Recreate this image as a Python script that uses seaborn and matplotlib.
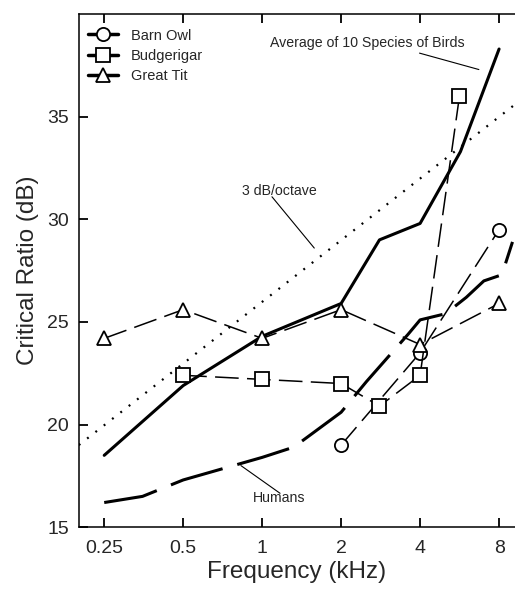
import matplotlib
matplotlib.use("Agg")
import matplotlib.pyplot as plt
from matplotlib.lines import Line2D
import seaborn as sns

# axis ticks
freq_ticks = [0.25, 0.5, 1, 2, 4, 8]
freq_labels = ["0.25", "0.5", "1", "2", "4", "8"]
db_ticks = [15, 20, 25, 30, 35]

# average of 10 bird species (solid)
avg_freq = [0.25, 0.5, 1, 2, 2.8, 4, 5.7, 8]
avg_db = [18.5, 21.9, 24.3, 25.9, 29.0, 29.8, 33.3, 38.3]

# humans (long dashes)
human_freq = [0.25, 0.35, 0.5, 0.73, 1, 1.32, 2, 2.5, 3.6, 4.0, 5.0, 6.0, 7.0, 8.2, 9.0]
human_db = [16.2, 16.5, 17.3, 17.9, 18.4, 18.9, 20.6, 22.1, 24.4, 25.1, 25.4, 26.2, 27.0, 27.3, 28.9]

# 3 dB/octave reference
octave_freq = [0.2, 9.2]
octave_db = [19.0, 35.6]

# species
owl_freq = [2, 4, 8]
owl_db = [19.0, 23.5, 29.5]
budgie_freq = [0.5, 1, 2, 2.8, 4, 5.65]
budgie_db = [22.4, 22.2, 22.0, 20.9, 22.4, 36.0]
tit_freq = [0.25, 0.5, 1, 2, 4, 8]
tit_db = [24.2, 25.6, 24.2, 25.6, 23.9, 25.9]

# leader lines for the text labels: (x0, x1), (y0, y1)
avg_leader = ([3.98, 6.7], [38.1, 37.3])
octave_leader = ([1.09, 1.58], [31.1, 28.6])
human_leader = ([0.83, 1.17], [18.0, 16.65])

sns.set_style("ticks")
plt.rcParams["font.family"] = ["Liberation Sans", "DejaVu Sans"]
plt.rcParams["lines.scale_dashes"] = False

fig = plt.figure(figsize=(5.15, 5.89), dpi=100)
ax = fig.add_axes([0.153, 0.105, 0.847, 0.871])

sns.lineplot(x=octave_freq, y=octave_db, ax=ax, color="black", lw=1.6,
             linestyle=(0, (1.4, 6.2)), errorbar=None)
sns.lineplot(x=avg_freq, y=avg_db, ax=ax, color="black", lw=2.2, errorbar=None)
sns.lineplot(x=human_freq, y=human_db, ax=ax, color="black", lw=2.2,
             linestyle=(0, (39, 11)), errorbar=None)

species = [
    (owl_freq, owl_db, "o", "Barn Owl"),
    (budgie_freq, budgie_db, "s", "Budgerigar"),
    (tit_freq, tit_db, "^", "Great Tit"),
]
for f, d, m, name in species:
    sns.lineplot(x=f, y=d, ax=ax, color="black", lw=1.1, linestyle=(0, (17, 6)),
                 marker=m, markersize=9.5, markerfacecolor="white",
                 markeredgecolor="black", markeredgewidth=1.3,
                 errorbar=None, zorder=5)

for lx, ly in [avg_leader, octave_leader, human_leader]:
    ax.plot(lx, ly, color="black", lw=0.8)

ax.set_xscale("log", base=2)
ax.set_xlim(0.2, 9.2)
ax.set_ylim(15, 40)
ax.set_xticks(freq_ticks)
ax.set_xticklabels(freq_labels)
ax.minorticks_off()
ax.set_yticks(db_ticks)
ax.tick_params(axis="both", which="major", direction="in", length=6.5, width=1.3,
               color="black", labelsize=14, pad=7, top=True, right=False)
ax.tick_params(axis="x", pad=9)
ax.spines["right"].set_visible(False)
for s in ["left", "bottom", "top"]:
    ax.spines[s].set_linewidth(1.1)
    ax.spines[s].set_color("black")
ax.set_xlabel("Frequency (kHz)", fontsize=17.5, labelpad=3)
ax.set_ylabel("Critical Ratio (dB)", fontsize=17.5, labelpad=6)

# annotations
ax.text(2.52, 38.6, "Average of 10 Species of Birds", fontsize=10.2, ha="center", va="center")
ax.text(1.16, 31.4, "3 dB/octave", fontsize=10.2, ha="center", va="center")
ax.text(1.16, 16.4, "Humans", fontsize=10.2, ha="center", va="center")

handles = [Line2D([], [], color="black", lw=2.5, marker=m, markersize=9.5,
                  markerfacecolor="white", markeredgecolor="black", markeredgewidth=1.3)
           for _, _, m, _ in species]
ax.legend(handles, [s[3] for s in species], loc="upper left",
          bbox_to_anchor=(0.022, 0.972), frameon=False, fontsize=10.5,
          borderpad=0, borderaxespad=0, labelspacing=0.42, handlelength=2.0,
          handletextpad=0.9)

fig.savefig("out.png", dpi=100)
